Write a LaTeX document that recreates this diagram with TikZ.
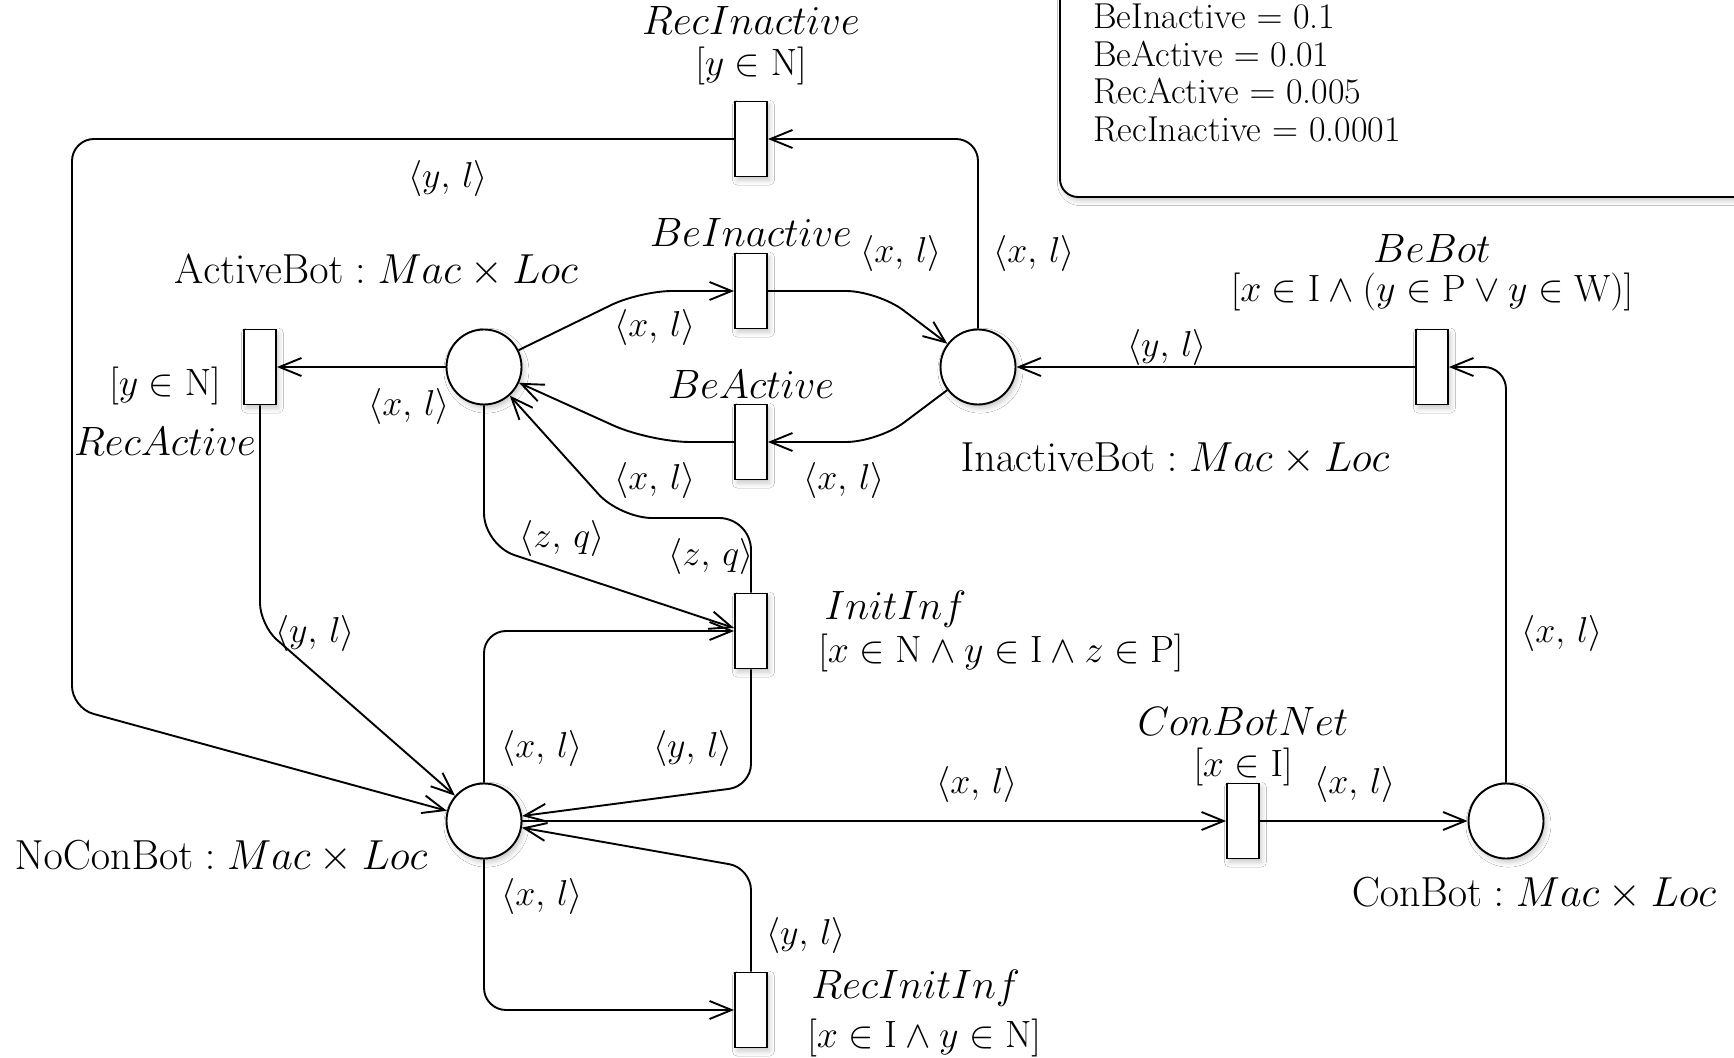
\RequirePackage{fix-cm}
\documentclass[tikz,border=0pt]{standalone}
\usetikzlibrary{arrows.meta, shadows.blur}
\newcommand\fPlace{\fontsize{21}{25}\selectfont}
\newcommand\fTrans{\fontsize{20.5}{24}\selectfont}
\newcommand\fArc{\fontsize{18}{21}\selectfont}
\newcommand\fGuard{\fontsize{19}{22}\selectfont}
\newcommand\fRate{\fontsize{18}{20}\selectfont}
\newcommand\tup[2]{\langle #1,\, #2\rangle}
\begin{document}
\begin{tikzpicture}[x=0.5pt, y=-0.5pt,
  shd/.style={blur shadow={shadow xshift=1.2pt, shadow yshift=-1.8pt, shadow blur radius=2.5pt, shadow opacity=22}},
  pplace/.style={circle, draw, line width=0.95pt, minimum size=37.5pt, inner sep=0pt, fill=white, shd},
  ptrans/.style={rectangle, draw, line width=0.95pt, minimum width=16pt, minimum height=37.5pt, inner sep=0pt, fill=white, shd},
  pnarc/.style={draw, line width=0.95pt, -{Straight Barb[length=11pt,width=9pt]}, rounded corners=11pt},
  lbl/.style={font=\fArc, inner sep=0pt},
  tname/.style={font=\fTrans, inner sep=0pt},
  guard/.style={font=\fGuard, inner sep=0pt},
  pname/.style={font=\fPlace, inner sep=0pt},
  rate/.style={font=\fRate, inner sep=0pt, anchor=base west}]
\clip (0,0) rectangle (1734,1058);
\fill[white] (0,0) rectangle (1734,1058);

% rates box
\draw[line width=0.95pt, rounded corners=9pt, shd, fill=white] (1060,-40) rectangle (1800,197);
\node[rate] (r1) at (1093,29) {BeInactive $=$ 0.1};
\node[rate] (r2) at (1093,67) {BeActive $=$ 0.01};
\node[rate] (r3) at (1093,104) {RecActive $=$ 0.005};
\node[rate] (r4) at (1093,142) {RecInactive $=$ 0.0001};

% places
\node[pplace] (AB) at (484,367) {};
\node[pplace] (IB) at (978,367) {};
\node[pplace] (NB) at (484,821) {};
\node[pplace] (CB) at (1506,821) {};

% transitions
\node[ptrans] (RI) at (751,139) {};
\node[ptrans] (BI) at (751,291) {};
\node[ptrans] (BA) at (751,442) {};
\node[ptrans] (RA) at (260,367) {};
\node[ptrans] (BB) at (1432,367) {};
\node[ptrans] (II) at (751,631) {};
\node[ptrans] (CN) at (1243,821) {};
\node[ptrans] (RII) at (751,1010) {};

% place labels
\node[pname] (nAB) at (376,271) {$\mathrm{ActiveBot} : Mac \times Loc$};
\node[pname] (nIB) at (1175,459) {$\mathrm{InactiveBot} : Mac \times Loc$};
\node[pname] (nNB) at (221,857) {$\mathrm{NoConBot} : Mac \times Loc$};
\node[pname] (nCB) at (1534,894) {$\mathrm{ConBot} : Mac \times Loc$};

% transition names and guards
\node[tname] (tRI) at (751,20) {$RecInactive$};
\node[guard] (gRI) at (751,66) {$[y \in \mathrm{N}]$};
\node[tname] (tBI) at (751,232) {$BeInactive$};
\node[tname] (tBA) at (751,384) {$BeActive$};
\node[guard] (gRA) at (165,386) {$[y \in \mathrm{N}]$};
\node[tname] (tRA) at (165,441) {$RecActive$};
\node[tname] (tBB) at (1432,248) {$BeBot$};
\node[guard] (gBB) at (1432,292) {$[x \in \mathrm{I} \wedge (y \in \mathrm{P} \vee y \in \mathrm{W})]$};
\node[tname, anchor=west] (tII) at (824,609) {$InitInf$};
\node[guard, anchor=west] (gII) at (818,653) {$[x \in \mathrm{N} \wedge y \in \mathrm{I} \wedge z \in \mathrm{P}]$};
\node[tname] (tCN) at (1243,721) {$ConBotNet$};
\node[guard] (gCN) at (1243,767) {$[x \in \mathrm{I}]$};
\node[tname, anchor=west] (tRII) at (811,988) {$RecInitInf$};
\node[guard, anchor=west] (gRII) at (807,1038) {$[x \in \mathrm{I} \wedge y \in \mathrm{N}]$};

% arcs
\draw[pnarc] (AB) -- (RA);
\draw[pnarc] (RA.south) -- (260,625) -- (NB);
\draw[pnarc, rounded corners=16pt] (AB) -- (640,291) -- (BI.west);
\draw[pnarc, rounded corners=16pt] (BI.east) -- (878,291) -- (IB);
\draw[pnarc, rounded corners=16pt] (IB) -- (878,442) -- (BA.east);
\draw[pnarc, rounded corners=20pt] (BA.west) -- (650,442) -- (AB);
\draw[pnarc] (IB.north) |- (RI.east);
\draw[pnarc] (RI.west) -- (72,139) -- (72,708) -- (NB);
\draw[pnarc] (BB) -- (IB);
\draw[pnarc] (CB.north) |- (BB.east);
\draw[pnarc, rounded corners=16pt] (AB.south) -- (484,545) -- ([yshift=1.5pt]II.west);
\draw[pnarc, rounded corners=16pt] (II.north) -- (751,518) -- (620,518) -- (AB);
\draw[pnarc] (NB.north) |- (II.west);
\draw[pnarc] (II.south) -- (751,786) -- (NB);
\draw[pnarc] (NB) -- (CN);
\draw[pnarc] (CN) -- (CB);
\draw[pnarc] (NB.south) |- (RII.west);
\draw[pnarc] (RII.north) -- (751,868) -- (NB);

% arc labels
\node[lbl] (l1) at (409,407) {$\tup{x}{l}$};
\node[lbl] (l2) at (315,633) {$\tup{y}{l}$};
\node[lbl] (l3) at (655,328) {$\tup{x}{l}$};
\node[lbl] (l4) at (901,254) {$\tup{x}{l}$};
\node[lbl] (l5) at (844,481) {$\tup{x}{l}$};
\node[lbl] (l6) at (655,481) {$\tup{x}{l}$};
\node[lbl] (l7) at (1034,254) {$\tup{x}{l}$};
\node[lbl] (l8) at (448,179) {$\tup{y}{l}$};
\node[lbl] (l9) at (1167,348) {$\tup{y}{l}$};
\node[lbl] (l10) at (1562,633) {$\tup{x}{l}$};
\node[lbl] (l11) at (562,539) {$\tup{z}{q}$};
\node[lbl] (l12) at (711,557) {$\tup{z}{q}$};
\node[lbl] (l13) at (542,748) {$\tup{x}{l}$};
\node[lbl] (l14) at (693,748) {$\tup{y}{l}$};
\node[lbl] (l15) at (977,784) {$\tup{x}{l}$};
\node[lbl] (l16) at (1355,784) {$\tup{x}{l}$};
\node[lbl] (l17) at (542,896) {$\tup{x}{l}$};
\node[lbl] (l18) at (806,935) {$\tup{y}{l}$};
\end{tikzpicture}
\end{document}
